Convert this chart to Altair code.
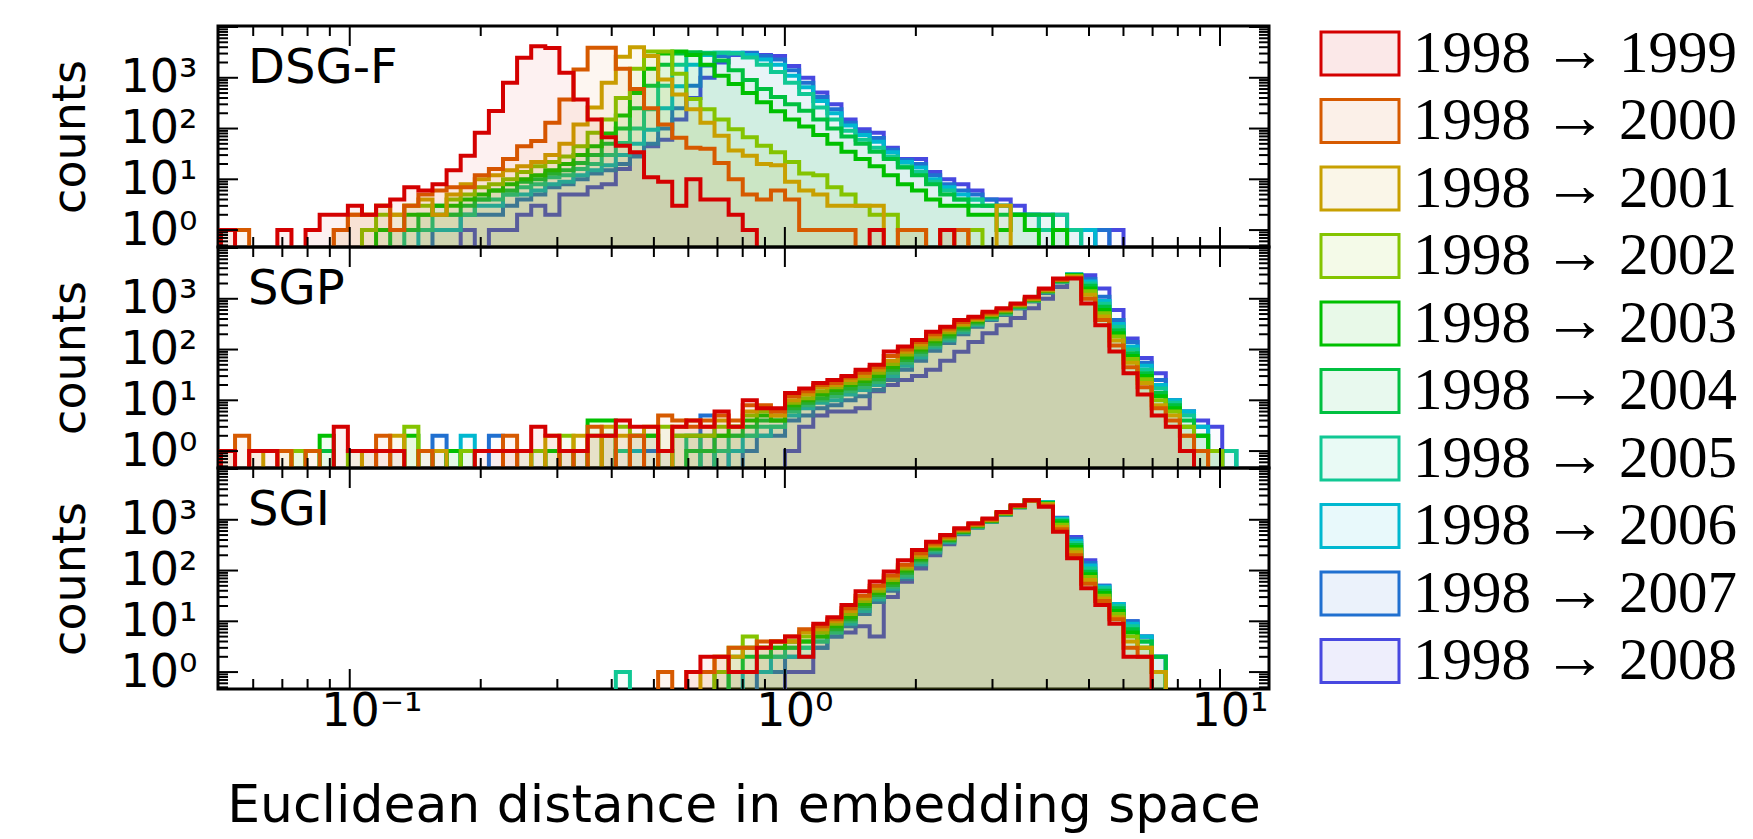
import altair as alt
import pandas as pd

# ---------------- data ----------------
YEARS = [1999, 2000, 2001, 2002, 2003, 2004, 2005, 2006, 2007, 2008]
LEGEND_LABELS = ["1998 \u2192 %d" % y for y in YEARS]
LEGEND_FROM = ["1998"] * len(YEARS)
LEGEND_TO = [str(y) for y in YEARS]
COLORS = ["#d40000", "#d65a00", "#c8a000", "#84c400", "#00c000",
          "#00c040", "#10c894", "#00b8d0", "#2070d0", "#4848e0"]
FILL_ALPHAS = [0.055, 0.055, 0.063, 0.063, 0.055, 0.045, 0.036, 0.027, 0.02, 0.02]
PANEL_NAMES = ["DSG-F", "SGP", "SGI"]

# histogram bins: log-spaced, first left edge and width in decades
BIN_LOG_START = -1.296
BIN_LOG_WIDTH = 0.03241

X_TICKS_MAJOR = [0.1, 1, 10]
X_TICK_LABELS = ["10\u207b\u00b9", "10\u2070", "10\u00b9"]
X_TICKS_MINOR = [0.06, 0.07, 0.08, 0.09, 0.2, 0.3, 0.4, 0.5, 0.6, 0.7, 0.8, 0.9,
                 2, 3, 4, 5, 6, 7, 8, 9]
Y_TICKS_MAJOR = [1, 10, 100, 1000]
Y_TICK_LABELS = ["10\u2070", "10\u00b9", "10\u00b2", "10\u00b3"]
Y_TICKS_MINOR = [0.5, 0.6, 0.7, 0.8, 0.9, 2, 3, 4, 5, 6, 7, 8, 9,
                 20, 30, 40, 50, 60, 70, 80, 90, 200, 300, 400, 500, 600, 700, 800, 900,
                 2000, 3000, 4000, 5000, 6000, 7000, 8000, 9000]
X_DOMAIN = [0.0498, 12.96]
Y_DOMAIN = [0.464, 10470]

# counts per bin; the first value belongs to bin START[year]
DSGF_START = {1999: 0, 2000: 0, 2001: 8, 2002: 10, 2003: 11, 2004: 12,
              2005: 13, 2006: 14, 2007: 15, 2008: 17}
DSGF_COUNTS = {
    1999: [1, 0, 0, 0, 1, 0, 1, 2, 2, 3, 2, 3, 4, 7, 6, 8, 15, 29, 83, 222,
           800, 2470, 4170, 3870, 1250, 375, 150, 67, 46, 34, 11, 9, 3, 10, 4, 4, 2, 1, 0, 0,
           0, 0, 0, 0, 0, 0, 1, 0, 0, 0, 0, 1],
    2000: [1, 1, 0, 0, 0, 0, 0, 0, 1, 2, 2, 3, 1, 3, 5, 6, 7, 7, 12, 16,
           25, 45, 57, 130, 375, 1450, 3900, 3900, 1500, 600, 250, 120, 66, 42, 40, 21, 10, 5, 4, 6,
           4, 1, 1, 1, 1, 0, 0, 0, 1, 1, 0, 1, 1],
    2001: [1, 2, 2, 3, 2, 3, 4, 2, 5, 8, 10, 12, 15, 18, 22, 30, 50, 120, 260, 800,
           2600, 4000, 2700, 930, 470, 240, 130, 72, 37, 29, 20, 19, 9, 6, 5, 3, 3, 3, 3, 0,
           1, 1, 0, 0, 1, 0, 0, 3],
    2002: [1, 2, 2, 3, 3, 2, 4, 5, 7, 8, 10, 14, 18, 22, 28, 45, 83, 150, 400, 1500,
           3300, 3300, 1200, 380, 240, 150, 97, 67, 46, 34, 22, 13, 12, 7, 5, 3, 2, 2, 1, 1,
           0, 1, 0, 1],
    2003: [1, 1, 2, 2, 3, 3, 4, 5, 6, 8, 10, 12, 15, 20, 30, 45, 80, 180, 500, 1500,
           3000, 3300, 2800, 1800, 1100, 750, 500, 330, 220, 150, 110, 75, 50, 35, 25, 18, 12, 8, 6, 4,
           3, 3, 2, 2, 1, 2, 1, 0, 1],
    2004: [1, 1, 2, 3, 2, 3, 4, 6, 6, 9, 10, 13, 15, 21, 30, 50, 100, 250, 700, 1800,
           3000, 3200, 3000, 2200, 1400, 900, 600, 420, 300, 225, 150, 100, 70, 50, 35, 25, 17, 12, 8, 5,
           4, 3, 3, 2, 2, 2, 2, 1],
    2005: [1, 1, 2, 2, 2, 4, 4, 5, 7, 8, 11, 12, 16, 20, 30, 52, 100, 240, 700, 1800,
           2900, 3100, 3100, 3000, 2500, 1800, 1300, 800, 480, 260, 150, 90, 60, 42, 28, 18, 14, 9, 6, 4,
           4, 3, 3, 2, 2, 1, 2, 1],
    2006: [1, 1, 1, 2, 3, 3, 5, 5, 6, 8, 9, 12, 15, 19, 30, 50, 95, 250, 680, 1800,
           2800, 3100, 3100, 2800, 2300, 1800, 1100, 650, 350, 200, 115, 75, 55, 34, 22, 17, 10, 7, 5, 4,
           3, 3, 2, 2, 2, 1, 1, 1],
    2007: [1, 1, 2, 2, 2, 3, 4, 5, 7, 8, 10, 13, 15, 20, 28, 50, 100, 250, 700, 1750,
           2700, 3000, 3100, 2700, 2300, 1400, 800, 420, 240, 130, 85, 65, 38, 24, 20, 12, 8, 6, 5, 4,
           3, 2, 2, 1, 1, 1, 0, 1],
    2008: [1, 0, 1, 1, 2, 3, 2, 5, 5, 7, 8, 16, 30, 45, 60, 150, 400, 1000, 2000, 2800,
           3000, 2800, 2700, 1700, 1000, 510, 300, 150, 97, 83, 42, 25, 25, 14, 10, 8, 6, 4, 4, 3,
           2, 2, 2, 1, 1, 0, 1],
}

SGP_START = {y: 0 for y in YEARS}
SGP_COUNTS = {
    1999: [1, 0, 1, 1, 0, 0, 0, 0, 3, 1, 1, 1, 1, 0, 0, 0, 0, 0, 1, 1,
           1, 1, 3, 2, 1, 1, 2, 2, 4, 3, 3, 1, 3, 4, 3, 6, 3, 10, 7, 7,
           14, 17, 22, 25, 30, 40, 50, 91, 115, 155, 225, 280, 380, 445, 555, 650, 810, 1100, 1600, 2500,
           2500, 810, 300, 91, 34, 13, 5, 3, 1],
    2000: [1, 2, 0, 0, 1, 0, 1, 0, 0, 0, 0, 2, 0, 0, 1, 0, 0, 0, 0, 0,
           2, 0, 0, 0, 1, 0, 3, 2, 0, 2, 0, 5, 4, 3, 4, 5, 4, 8, 8, 6,
           12, 15, 20, 22, 28, 35, 45, 75, 100, 140, 200, 260, 350, 420, 520, 620, 780, 1050, 1550, 2400,
           2600, 1000, 380, 120, 45, 18, 7, 4, 2, 1],
    2001: [1, 0, 1, 0, 1, 0, 0, 0, 0, 0, 1, 0, 2, 0, 0, 1, 0, 0, 0, 0,
           0, 1, 0, 2, 0, 2, 0, 3, 2, 0, 3, 0, 3, 4, 3, 4, 3, 6, 7, 5,
           10, 13, 18, 20, 25, 30, 40, 60, 90, 125, 180, 240, 320, 400, 500, 600, 760, 1000, 1500, 2400,
           2700, 1200, 450, 150, 55, 22, 8, 5, 2, 1],
    2002: [0, 0, 0, 0, 0, 1, 0, 0, 0, 1, 0, 0, 0, 3, 0, 0, 0, 1, 0, 0,
           0, 0, 1, 0, 2, 0, 2, 0, 3, 2, 0, 3, 2, 2, 2, 3, 3, 5, 6, 5,
           9, 11, 15, 18, 22, 27, 35, 52, 80, 110, 160, 220, 300, 380, 480, 580, 740, 980, 1450, 2350,
           2800, 1400, 520, 180, 65, 26, 10, 6, 3, 1, 1],
    2003: [0, 0, 0, 0, 0, 1, 0, 2, 0, 0, 0, 0, 0, 2, 0, 0, 1, 0, 0, 0,
           0, 0, 0, 1, 0, 0, 4, 4, 0, 2, 2, 0, 2, 2, 2, 2, 3, 4, 5, 4,
           8, 10, 13, 16, 20, 24, 30, 45, 70, 100, 145, 200, 280, 360, 460, 560, 720, 960, 1420, 2300,
           2900, 1600, 600, 210, 75, 30, 12, 7, 3, 2, 1],
    2004: [0, 0, 0, 0, 0, 0, 0, 1, 0, 0, 0, 0, 0, 0, 1, 0, 1, 0, 0, 0,
           0, 1, 0, 0, 0, 1, 0, 2, 0, 0, 2, 1, 0, 1, 1, 2, 2, 3, 4, 4,
           7, 9, 11, 14, 17, 21, 26, 40, 62, 90, 130, 180, 260, 340, 440, 540, 700, 940, 1400, 2250,
           2950, 1800, 700, 240, 85, 34, 14, 8, 4, 2, 1],
    2005: [0, 0, 0, 0, 0, 0, 0, 0, 0, 0, 1, 0, 0, 0, 0, 0, 0, 1, 0, 0,
           0, 0, 1, 0, 0, 0, 0, 0, 1, 0, 0, 1, 0, 2, 0, 1, 2, 2, 3, 3,
           6, 8, 10, 12, 15, 18, 23, 35, 55, 80, 120, 165, 240, 320, 420, 520, 680, 920, 1380, 2200,
           3000, 2000, 800, 280, 100, 40, 17, 9, 5, 2, 1, 1],
    2006: [0, 0, 0, 0, 0, 0, 0, 0, 0, 0, 0, 0, 1, 0, 0, 0, 0, 2, 0, 0,
           0, 0, 0, 0, 1, 0, 0, 0, 0, 1, 0, 0, 0, 0, 1, 0, 1, 2, 2, 3,
           5, 7, 9, 10, 13, 16, 20, 30, 48, 70, 110, 150, 220, 300, 400, 500, 660, 900, 1350, 2150,
           3000, 2200, 900, 320, 115, 48, 20, 10, 6, 3, 1, 1],
    2007: [0, 0, 0, 0, 0, 0, 0, 0, 0, 0, 0, 0, 0, 0, 0, 2, 0, 0, 0, 2,
           0, 0, 0, 0, 0, 1, 0, 0, 0, 0, 1, 0, 0, 0, 5, 0, 0, 1, 2, 2,
           4, 5, 7, 8, 10, 12, 16, 25, 40, 60, 95, 135, 200, 280, 380, 480, 640, 880, 1300, 2100,
           3000, 2450, 1100, 380, 140, 55, 25, 10, 6, 3, 1, 1],
    2008: [0, 0, 0, 0, 0, 0, 0, 0, 0, 0, 0, 0, 0, 0, 0, 1, 0, 0, 0, 0,
           1, 0, 0, 0, 0, 0, 0, 0, 1, 0, 0, 0, 0, 0, 0, 1, 0, 0, 0, 0,
           1, 3, 5, 6, 6, 7, 15, 20, 25, 30, 40, 60, 90, 140, 210, 300, 420, 650, 1000, 1700,
           2700, 2900, 1600, 600, 165, 68, 34, 10, 6, 4, 3],
}

SGI_START = {1999: 33, 2000: 31, 2001: 34, 2002: 35, 2003: 35, 2004: 36,
             2005: 28, 2006: 37, 2007: 38, 2008: 40}
SGI_COUNTS = {
    1999: [1, 2, 2, 1, 1, 3, 4, 5, 2, 9, 12, 21, 39, 61, 96, 160, 254, 370, 500, 680,
           850, 1060, 1430, 1940, 2430, 1800, 580, 175, 45, 21, 9, 2, 2],
    2000: [1, 0, 1, 1, 2, 3, 3, 4, 4, 5, 7, 8, 11, 18, 32, 50, 80, 130, 220, 340,
           470, 650, 820, 1030, 1400, 1900, 2400, 1900, 650, 200, 55, 25, 11, 3, 2],
    2001: [1, 2, 2, 3, 3, 4, 4, 6, 7, 10, 16, 28, 45, 72, 120, 200, 320, 450, 630, 800,
           1000, 1380, 1900, 2400, 2000, 720, 230, 65, 28, 12, 4, 3, 1],
    2002: [1, 3, 5, 3, 4, 4, 5, 6, 9, 14, 25, 40, 65, 110, 185, 300, 430, 610, 780, 980,
           1350, 1850, 2400, 2050, 800, 260, 75, 32, 14, 5, 3, 1],
    2003: [1, 2, 3, 3, 3, 4, 4, 5, 8, 12, 22, 36, 58, 100, 170, 280, 410, 590, 760, 960,
           1330, 1830, 2400, 2100, 880, 290, 85, 36, 16, 6, 3, 1],
    2004: [1, 2, 2, 3, 3, 4, 5, 7, 11, 20, 33, 52, 90, 160, 265, 395, 575, 745, 945,
           1310, 1810, 2400, 2150, 950, 320, 95, 40, 18, 7, 4, 2],
    2005: [1, 0, 0, 0, 0, 0, 0, 0, 1, 1, 2, 2, 3, 3, 4, 6, 10, 18, 30, 48,
           80, 145, 250, 380, 560, 730, 930, 1290, 1790, 2400, 2200, 1000, 350, 110, 45, 20, 8, 4, 2],
    2006: [1, 1, 2, 2, 3, 4, 6, 9, 16, 27, 44, 75, 135, 235, 365, 545, 715, 915, 1270, 1770,
           2400, 2230, 1050, 380, 125, 48, 22, 9, 5, 2],
    2007: [1, 1, 2, 2, 3, 5, 8, 14, 24, 40, 68, 125, 220, 350, 530, 700, 900, 1250, 1750, 2400,
           2240, 1080, 420, 140, 50, 22, 10, 5, 2],
    2008: [1, 1, 3, 5, 6, 8, 5, 30, 60, 110, 200, 330, 520, 740, 960, 1320, 1850, 2400, 2250, 1100,
           460, 160, 50, 22, 10, 5, 2],
}

PANEL_DATA = [(DSGF_START, DSGF_COUNTS), (SGP_START, SGP_COUNTS), (SGI_START, SGI_COUNTS)]

# ---------------- style ----------------
W, H = 1051, 221
FLOOR = 0.01
LINE_W = 4
SANS = "DejaVu Sans"
SERIF = "Liberation Serif"


def label_expr(values, labels):
    expr = "''"
    for v, lab in reversed(list(zip(values, labels))):
        expr = "datum.value == %s ? '%s' : (%s)" % (v, lab, expr)
    return expr


def series_frame(start, counts):
    rows = []
    for i, c in enumerate(counts):
        k = start + i
        rows.append({"x": 10 ** (BIN_LOG_START + k * BIN_LOG_WIDTH),
                     "count": c if c > 0 else FLOOR, "base": FLOOR})
    last = counts[-1] if counts[-1] > 0 else FLOOR
    rows.append({"x": 10 ** (BIN_LOG_START + (start + len(counts)) * BIN_LOG_WIDTH),
                 "count": last, "base": FLOOR})
    return pd.DataFrame(rows)


xs = alt.Scale(type="log", domain=X_DOMAIN, nice=False)
ys = alt.Scale(type="log", domain=Y_DOMAIN, nice=False)

y_axis = alt.Axis(values=Y_TICKS_MAJOR, labelExpr=label_expr(Y_TICKS_MAJOR, Y_TICK_LABELS),
                  ticks=False, tickSize=0, domain=False, grid=False,
                  labelFont=SANS, labelFontSize=46, labelColor="black", labelPadding=21,
                  labelFlush=False, labelOverlap=False,
                  title="counts", titleFont=SANS, titleFontSize=46, titleFontWeight="normal",
                  titleColor="black", titleBaseline="alphabetic", titlePadding=36)

x_axis_bottom = alt.Axis(values=X_TICKS_MAJOR, labelExpr=label_expr(X_TICKS_MAJOR, X_TICK_LABELS),
                         ticks=False, tickSize=0, domain=False, grid=False,
                         labelFont=SANS, labelFontSize=46, labelColor="black", labelPadding=36,
                         labelBaseline="alphabetic", labelAlign="left", labelOffset=-29,
                         labelFlush=False, labelOverlap=False,
                         title="Euclidean distance in embedding space", titleFont=SANS,
                         titleFontSize=52, titleFontWeight="normal", titleColor="black",
                         titleBaseline="top", titlePadding=46)


def make_panel(idx):
    starts, counts = PANEL_DATA[idx]
    x_axis = x_axis_bottom if idx == 2 else None
    layers = []
    for year, color, alpha in reversed(list(zip(YEARS, COLORS, FILL_ALPHAS))):
        df = series_frame(starts[year], counts[year])
        layers.append(
            alt.Chart(df).mark_area(interpolate="step-after", clip=True, fill=color,
                                    fillOpacity=alpha, stroke=color, strokeWidth=LINE_W,
                                    strokeOpacity=1, strokeJoin="miter").encode(
                x=alt.X("x:Q", scale=xs, axis=x_axis),
                y=alt.Y("count:Q", scale=ys, axis=y_axis, stack=None),
                y2=alt.Y2("base:Q"),
            )
        )
    for vals, ln in ((X_TICKS_MAJOR, 20), (X_TICKS_MINOR, 10)):
        tdf = pd.DataFrame({"x": vals})
        for y0, y1 in ((0, ln), (H, H - ln)):
            layers.append(alt.Chart(tdf).mark_rule(color="black", strokeWidth=2).encode(
                x=alt.X("x:Q", scale=xs, axis=x_axis), y=alt.value(y0), y2=alt.value(y1)))
    for vals, ln in ((Y_TICKS_MAJOR + [10000], 20), (Y_TICKS_MINOR, 10)):
        tdf = pd.DataFrame({"count": vals})
        for x0, x1 in ((0, ln), (W, W - ln)):
            layers.append(alt.Chart(tdf).mark_rule(color="black", strokeWidth=2).encode(
                y=alt.Y("count:Q", scale=ys, axis=y_axis), x=alt.value(x0), x2=alt.value(x1)))
    layers.append(
        alt.Chart(pd.DataFrame({"t": [PANEL_NAMES[idx]]})).mark_text(
            align="left", baseline="alphabetic", font=SANS, fontSize=48, color="black").encode(
            x=alt.value(30), y=alt.value(57), text="t:N"))
    return alt.layer(*layers).properties(width=W, height=H)


panels = alt.vconcat(make_panel(0), make_panel(1), make_panel(2), spacing=0, bounds="flush")

leg_df = pd.DataFrame({"label": LEGEND_LABELS, "year": LEGEND_TO,
                       "from": LEGEND_FROM, "to": LEGEND_TO,
                       "arrow": ["\u2192"] * len(YEARS)})
leg_y = alt.Scale(type="point", domain=LEGEND_LABELS, range=[27.5, 635], padding=0)
col_scale = alt.Scale(domain=LEGEND_TO, range=COLORS)
boxes = alt.Chart(leg_df).mark_point(shape="M-1,-0.55H1V0.55H-1Z", size=6084, filled=True,
                                     opacity=1, fillOpacity=0.09, strokeOpacity=1,
                                     strokeWidth=3).encode(
    x=alt.value(66),
    y=alt.Y("label:N", scale=leg_y, axis=None),
    fill=alt.Fill("year:N", scale=col_scale, legend=None),
    stroke=alt.Stroke("year:N", scale=col_scale, legend=None),
)
t_from = alt.Chart(leg_df).mark_text(align="left", baseline="middle", font=SERIF, fontSize=59,
                                     color="black").encode(
    x=alt.value(119), y=alt.Y("label:N", scale=leg_y, axis=None), text="from:N")
t_arrow = alt.Chart(leg_df).mark_text(align="center", baseline="middle", font=SERIF, fontSize=64,
                                      color="black", dy=-2).encode(
    x=alt.value(281), y=alt.Y("label:N", scale=leg_y, axis=None), text="arrow:N")
t_to = alt.Chart(leg_df).mark_text(align="left", baseline="middle", font=SERIF, fontSize=59,
                                   color="black").encode(
    x=alt.value(325), y=alt.Y("label:N", scale=leg_y, axis=None), text="to:N")
legend = alt.layer(boxes, t_from, t_arrow, t_to).properties(
    width=440, height=663, view=alt.ViewBackground(stroke="transparent"))

chart = alt.hconcat(panels, legend, spacing=20).properties(
    padding={"left": 37, "top": 10, "right": 0, "bottom": 0},
    background="white",
).configure_view(stroke="black", strokeWidth=3)

chart.save("out.html", embed_options={"renderer": "svg", "actions": False})
